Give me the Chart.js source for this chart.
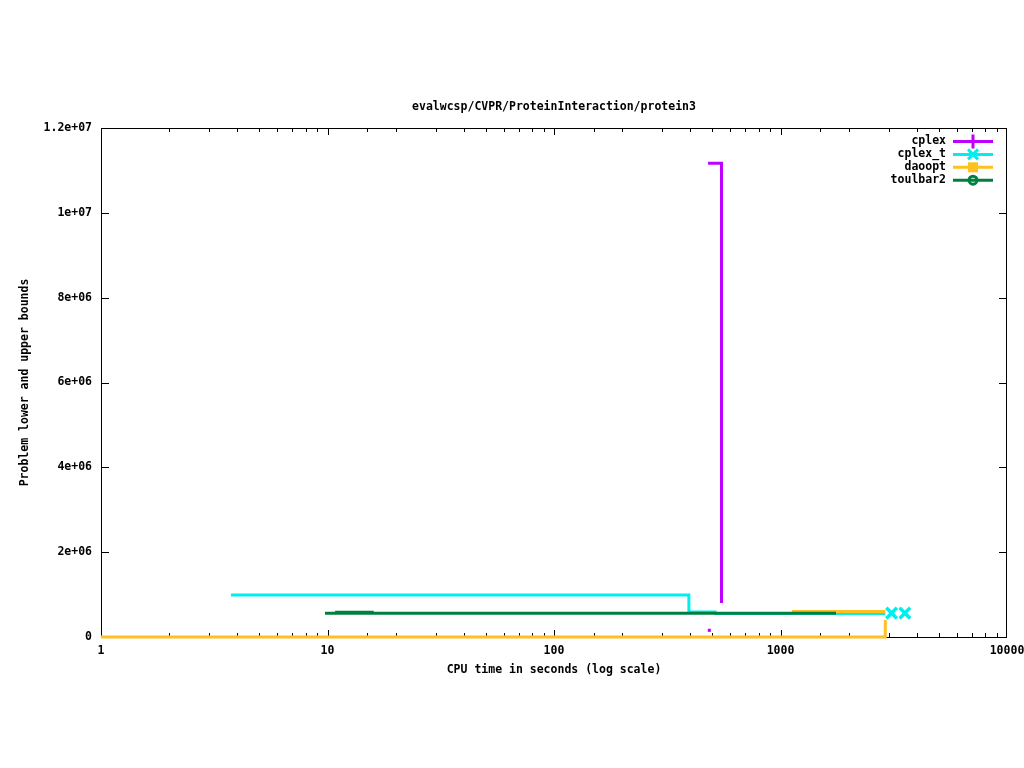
<!DOCTYPE html>
<html>
<head>
<meta charset="utf-8">
<script src="https://cdn.jsdelivr.net/npm/chart.js@4/dist/chart.umd.min.js"></script>
<style>
  html, body { margin: 0; padding: 0; background: #fff; }
  #wrap { width: 1024px; height: 768px; }
</style>
</head>
<body>
<div id="wrap"><canvas id="plot" width="1024" height="768"></canvas></div>
<script>
// values (time in s, cost)
const cplexUbTime = [479, 549];
const cplexUbCost = [11170000, 800000];
const cplexLbTime = [485];
const cplexLbCost = [158000];

const cplexTUbTime = [3.75, 394, 514, 2900];
const cplexTUbCost = [990000, 590000, 555000, 555000];
const cplexTMarkTime = [3094, 3542];
const cplexTMarkCost = [562000, 562000];

const daooptUbTime = [1124, 2901];
const daooptUbCost = [600000, 600000];
const daooptLbTime = [1, 2901];
const daooptLbCost = [0, 400000];

const toulbarUbTime = [9.75, 1758];
const toulbarUbCost = [560000, 560000];
const toulbarLbTime = [10.8, 16];
const toulbarLbCost = [585000, 585000];

const xTickValues = [1, 10, 100, 1000, 10000];
const yTickValues = [0, 2e6, 4e6, 6e6, 8e6, 1e7, 1.2e7];

const keyNames = ["cplex", "cplex_t", "daoopt", "toulbar2"];
const keyColors = ["#c000ff", "#00eeee", "#ffc020", "#008040"];
const keyMarks = ["cross", "crossRot", "rect", "ring"];

const plotTitle = "evalwcsp/CVPR/ProteinInteraction/protein3";

const FONT = "'DejaVu Sans Mono', 'Liberation Mono', monospace";

function pts(xs, ys) {
  return xs.map((v, i) => ({ x: v, y: ys[i] }));
}

function fmtTick(v) {
  if (v === 0) return "0";
  const e = Math.floor(Math.log10(v) + 1e-9);
  const m = Math.round(v / Math.pow(10, e) * 10) / 10;
  return m + "e+" + String(e).padStart(2, "0");
}

// gnuplot "steps": horizontal first, then vertical
function stepLine(label, data, color, order) {
  return {
    label, data, order, clip: false,
    borderColor: color, backgroundColor: color,
    borderWidth: 3, stepped: "before", pointRadius: 0,
    fill: false, borderCapStyle: "butt", borderJoinStyle: "miter"
  };
}

const datasets = [
  stepLine("toulbar2", pts(toulbarUbTime, toulbarUbCost), keyColors[3], 1),
  stepLine("toulbar2 lb", pts(toulbarLbTime, toulbarLbCost), keyColors[3], 1),
  stepLine("daoopt", pts(daooptUbTime, daooptUbCost), keyColors[2], 2),
  stepLine("daoopt lb", pts(daooptLbTime, daooptLbCost), keyColors[2], 2),
  stepLine("cplex_t", pts(cplexTUbTime, cplexTUbCost), keyColors[1], 3),
  {
    label: "cplex_t end", data: pts(cplexTMarkTime, cplexTMarkCost), order: 3,
    showLine: false, pointStyle: "crossRot", pointRadius: 7.5, clip: false,
    pointBorderWidth: 3.5, borderColor: keyColors[1], backgroundColor: keyColors[1]
  },
  stepLine("cplex", pts(cplexUbTime, cplexUbCost), keyColors[0], 4),
  {
    label: "cplex lb", data: pts(cplexLbTime, cplexLbCost), order: 4,
    showLine: false, pointStyle: "rect", pointRadius: 2.2, clip: false,
    pointBorderWidth: 0, borderColor: keyColors[0], backgroundColor: keyColors[0]
  }
];

function drawMark(ctx, kind, x, y, color) {
  ctx.save();
  ctx.strokeStyle = color;
  ctx.fillStyle = color;
  ctx.lineWidth = 3;
  ctx.beginPath();
  if (kind === "cross") {
    ctx.moveTo(x, y - 7); ctx.lineTo(x, y + 7);
    ctx.moveTo(x - 7, y); ctx.lineTo(x + 7, y);
    ctx.stroke();
  } else if (kind === "crossRot") {
    ctx.moveTo(x - 5, y - 5); ctx.lineTo(x + 5, y + 5);
    ctx.moveTo(x - 5, y + 5); ctx.lineTo(x + 5, y - 5);
    ctx.stroke();
  } else if (kind === "rect") {
    ctx.fillRect(x - 5, y - 5, 10, 10);
  } else {
    ctx.arc(x, y, 4, 0, Math.PI * 2);
    ctx.stroke();
  }
  ctx.restore();
}

const gnuFrame = {
  id: "gnuFrame",
  beforeDatasetsDraw(chart) {
    const { ctx, chartArea: a, scales } = chart;
    const L = Math.round(a.left), R = Math.round(a.right);
    const T = Math.round(a.top), B = Math.round(a.bottom);
    ctx.save();
    ctx.strokeStyle = "#000";
    ctx.lineWidth = 1;
    ctx.strokeRect(L + 0.5, T + 0.5, R - L - 1, B - T);
    ctx.beginPath();
    scales.x.ticks.forEach(t => {
      const lg = Math.log10(t.value);
      const major = Math.abs(lg - Math.round(lg)) < 1e-9;
      const len = major ? 7 : 4;
      const px = Math.round(scales.x.getPixelForValue(t.value)) + 0.5;
      if (px <= L + 1 || px >= R - 1) return;
      ctx.moveTo(px, B); ctx.lineTo(px, B - len);
      ctx.moveTo(px, T); ctx.lineTo(px, T + len);
    });
    scales.y.ticks.forEach(t => {
      const py = Math.round(scales.y.getPixelForValue(t.value)) + 0.5;
      if (py <= T + 1 || py >= B - 1) return;
      ctx.moveTo(L, py); ctx.lineTo(L + 8, py);
      ctx.moveTo(R, py); ctx.lineTo(R - 8, py);
    });
    ctx.stroke();
    // title centred over the plot box, as gnuplot does
    ctx.font = "bold 11.5px " + FONT;
    ctx.fillStyle = "#000";
    ctx.textAlign = "center";
    ctx.textBaseline = "middle";
    ctx.fillText(plotTitle, (a.left + a.right) / 2, 107);
    ctx.restore();
  },
  afterDatasetsDraw(chart) {
    const { ctx } = chart;
    ctx.save();
    ctx.font = "bold 11.5px " + FONT;
    ctx.fillStyle = "#000";
    ctx.textAlign = "right";
    ctx.textBaseline = "middle";
    keyNames.forEach((name, i) => {
      const y = 141.5 + i * 12.9;
      ctx.fillText(name, 946, y);
      ctx.strokeStyle = keyColors[i];
      ctx.lineWidth = 3;
      ctx.beginPath();
      ctx.moveTo(953, y); ctx.lineTo(993, y);
      ctx.stroke();
      drawMark(ctx, keyMarks[i], 973, y, keyColors[i]);
    });
    ctx.restore();
  }
};

Chart.defaults.font.family = FONT;
Chart.defaults.font.size = 11.5;
Chart.defaults.font.weight = "bold";
Chart.defaults.color = "#000";

new Chart(document.getElementById("plot"), {
  type: "line",
  data: { datasets },
  options: {
    responsive: false,
    animation: false,
    events: [],
    layout: { padding: { left: 0, right: 17, top: 128, bottom: 0 } },
    plugins: {
      legend: { display: false },
      tooltip: { enabled: false },
      title: { display: false }
    },
    scales: {
      x: {
        type: "logarithmic",
        min: 1, max: 10000,
        grid: { display: false, drawTicks: false },
        border: { display: false },
        ticks: {
          autoSkip: false, maxRotation: 0, padding: 7,
          callback: v => (xTickValues.includes(v) ? String(v) : "")
        },
        title: {
          display: true,
          text: "CPU time in seconds (log scale)",
          padding: { top: 4, bottom: 91 }
        },
        afterFit: s => { s.height = 131; s.paddingLeft = 0; s.paddingRight = 0; }
      },
      y: {
        type: "linear",
        min: 0, max: 1.2e7,
        afterBuildTicks: s => { s.ticks = yTickValues.map(v => ({ value: v })); },
        grid: { display: false, drawTicks: false },
        border: { display: false },
        ticks: { padding: 9, callback: v => fmtTick(v) },
        title: {
          display: true,
          text: "Problem lower and upper bounds",
          padding: { top: 18, bottom: 4 }
        },
        afterFit: s => { s.width = 101; s.paddingTop = 0; s.paddingBottom = 0; }
      }
    }
  },
  plugins: [gnuFrame]
});
</script>
</body>
</html>
